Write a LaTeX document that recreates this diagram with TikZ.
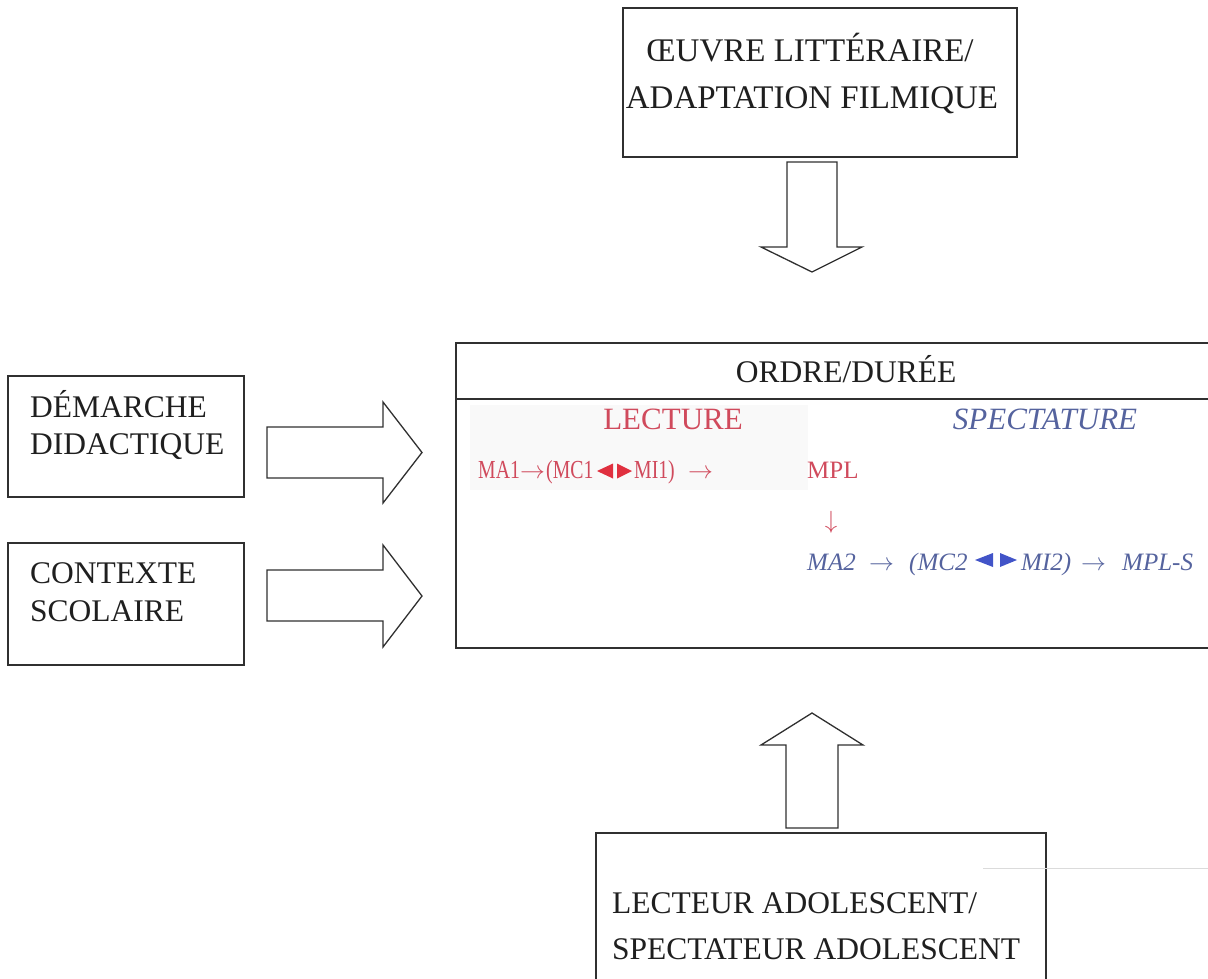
\documentclass[tikz,border=0pt]{standalone}
\usepackage{fontspec}
\setmainfont{Liberation Serif}
\newfontfamily\narrowserif[FakeStretch=0.76]{Liberation Serif}
\definecolor{boxline}{HTML}{303030}
\definecolor{lectred}{HTML}{D04A5C}
\definecolor{lecttri}{HTML}{E0303F}
\definecolor{specblue}{HTML}{55639E}
\definecolor{spectri}{HTML}{4254C8}
\begin{document}
\begin{tikzpicture}[x=1pt,y=-1pt,
  box/.style={draw=boxline, line width=1.4pt, rectangle, inner sep=0},
  blockarrow/.style={draw=boxline, line width=1.3pt, fill=white, line join=miter},
  lbl/.style={inner sep=0, text=black!88, font=\fontsize{31.5}{37}\selectfont},
  redtxt/.style={inner sep=0, text=lectred, font=\fontsize{26}{30}\narrowserif},
  bluetxt/.style={inner sep=0, text=specblue, font=\fontsize{25}{30}\selectfont\itshape},
  redsym/.style={inner sep=0, text=lectred, font=\fontsize{23}{27}\selectfont},
  bluesym/.style={inner sep=0, text=specblue, font=\fontsize{23}{27}\selectfont}]
\useasboundingbox (0,0) rectangle (1208,978);
\clip (0,0) rectangle (1208,978);

% boxes
\node[box, minimum width=394pt, minimum height=149pt] (oeuvre) at (820,82.5) {};
\node[box, minimum width=759pt, minimum height=305pt] (centre) at (835.5,495.5) {};
\node[box, minimum width=236pt, minimum height=121pt] (demarche) at (126,436.5) {};
\node[box, minimum width=236pt, minimum height=122pt] (contexte) at (126,604) {};
\node[box, minimum width=450pt, minimum height=157pt] (lecteur) at (821,911.5) {};
\draw[draw=boxline, line width=1.4pt] (centre.west |- 0,399) -- (centre.east |- 0,399);

% faint backdrop behind the reading line
\fill[black!2.5] (470,405) rectangle (808,490);
% faint rule beside the bottom box
\draw[black!14, line width=1pt] (983,868) -- (1208,868);

% box texts
\node[lbl, font=\fontsize{33}{38}\selectfont, anchor=base] (t1) at (810,61) {ŒUVRE LITTÉRAIRE/};
\node[lbl, font=\fontsize{33}{38}\selectfont, anchor=base] (t2) at (812,108) {ADAPTATION FILMIQUE};
\node[lbl, anchor=base west] (d1) at (30,417) {DÉMARCHE};
\node[lbl, anchor=base west] (d2) at (30,454) {DIDACTIQUE};
\node[lbl, anchor=base west] (c1) at (30,583) {CONTEXTE};
\node[lbl, anchor=base west] (c2) at (30,621) {SCOLAIRE};
\node[lbl, anchor=base west] (l1) at (612,913) {LECTEUR ADOLESCENT/};
\node[lbl, anchor=base west] (l2) at (612,959) {SPECTATEUR ADOLESCENT};
\node[lbl, anchor=base] (ordre) at (846,382) {ORDRE/DURÉE};

% column headings
\node[inner sep=0, text=lectred, font=\fontsize{31}{36}\selectfont, anchor=base] (lecture) at (673,429) {LECTURE};
\node[bluetxt, font=\fontsize{31}{36}\selectfont\itshape, anchor=base] (spect) at (1045,429) {SPECTATURE};

% reading sequence
\node[redtxt, anchor=base west] (ma1) at (478,478) {MA1};
\node[redsym, anchor=base west] (ra1) at (520,478) {$\rightarrow$};
\node[redtxt, anchor=base west] (mc1) at (546,478) {(MC1};
\fill[lecttri] (597,471) -- (613,463.5) -- (613,478.5) -- cycle;
\fill[lecttri] (632,471) -- (617,463.5) -- (617,478.5) -- cycle;
\node[redtxt, anchor=base west] (mi1) at (634,478) {MI1)};
\node[redsym, anchor=base west] (ra2) at (688,478) {$\rightarrow$};
\node[inner sep=0, text=lectred, font=\fontsize{25}{30}\selectfont, anchor=base west] (mpl) at (807,478) {MPL};
\node[redsym, anchor=base] (rdown) at (831,528) {$\downarrow$};

% viewing sequence
\node[bluetxt, anchor=base west] (ma2) at (807,570) {MA2};
\node[bluesym, anchor=base west] (ba1) at (869,570) {$\rightarrow$};
\node[bluetxt, anchor=base west] (mc2) at (909,570) {(MC2};
\fill[spectri] (975,560) -- (993,553) -- (993,567) -- cycle;
\fill[spectri] (1017,560) -- (1000,553) -- (1000,567) -- cycle;
\node[bluetxt, anchor=base west] (mi2) at (1021,570) {MI2)};
\node[bluesym, anchor=base west] (ba2) at (1081,570) {$\rightarrow$};
\node[bluetxt, anchor=base west] (mpls) at (1122,570) {MPL-S};

% block arrows
\draw[blockarrow] (787,162) -- (837,162) -- (837,247) -- (862,247) -- (812,272)
  -- (761,247) -- (787,247) -- cycle;
\draw[blockarrow] (267,427) -- (383,427) -- (383,402) -- (422,452.5) -- (383,503)
  -- (383,478) -- (267,478) -- cycle;
\draw[blockarrow] (267,570) -- (383,570) -- (383,545) -- (422,596) -- (383,647)
  -- (383,621) -- (267,621) -- cycle;
\draw[blockarrow] (786,828) -- (838,828) -- (838,745) -- (863,745) -- (812,713)
  -- (761,745) -- (786,745) -- cycle;
\end{tikzpicture}
\end{document}
